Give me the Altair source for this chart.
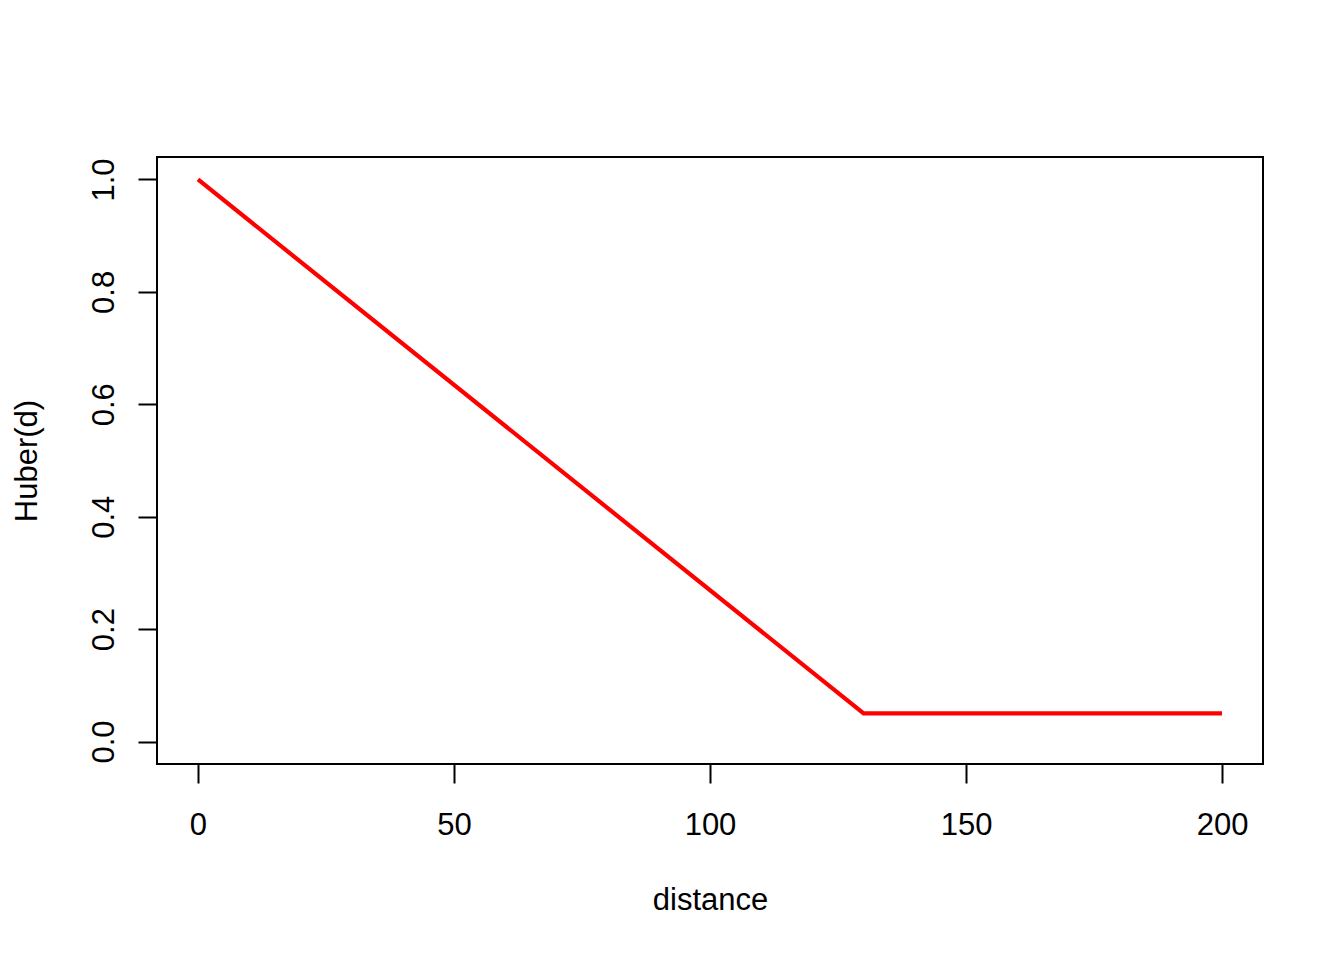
import altair as alt
import pandas as pd

distance = [0, 130, 200]
huber = [1.0, 0.05, 0.05]
x_ticks = [0, 50, 100, 150, 200]
y_ticks = [0.0, 0.2, 0.4, 0.6, 0.8, 1.0]

df = pd.DataFrame({"distance": distance, "huber": huber})

FONT = "Liberation Sans"
FS = 31

chart = alt.Chart(df).mark_line(color="#FF0000", strokeWidth=4.2).encode(
    x=alt.X(
        "distance:Q",
        scale=alt.Scale(domain=[-8, 208], nice=False, zero=False),
        axis=alt.Axis(
            values=x_ticks, title="distance", grid=False, domain=False,
            tickSize=19, tickWidth=2, tickColor="black",
            labelFont=FONT, labelFontSize=FS, labelColor="black",
            labelBaseline="alphabetic", labelPadding=51, labelAlign="center",
            titleFont=FONT, titleFontSize=FS, titleFontWeight="normal", titleColor="black",
            titleBaseline="alphabetic", titleY=145, labelFlush=False,
        ),
    ),
    y=alt.Y(
        "huber:Q",
        scale=alt.Scale(domain=[-0.04, 1.04], nice=False, zero=False),
        axis=alt.Axis(
            values=y_ticks, format=".1f", title="Huber(d)", grid=False, domain=False,
            tickSize=19, tickWidth=2, tickColor="black",
            labelFont=FONT, labelFontSize=FS, labelColor="black",
            labelAngle=270, labelAlign="center", labelBaseline="alphabetic",
            labelPadding=25, labelFlush=False,
            titleFont=FONT, titleFontSize=FS, titleFontWeight="normal", titleColor="black",
            titleAngle=270, titleBaseline="alphabetic", titleAlign="center",
            titleX=-121, titleY=303.5,
        ),
    ),
).properties(
    width=1106, height=607,
    autosize=alt.AutoSizeParams(type="none"),
    padding={"left": 149, "top": 149, "right": 60, "bottom": 170},
).configure(
    background="white",
    view=alt.ViewConfig(stroke="black", strokeWidth=2),
)

chart.save("out.html", embed_options={"renderer": "svg", "actions": False})
